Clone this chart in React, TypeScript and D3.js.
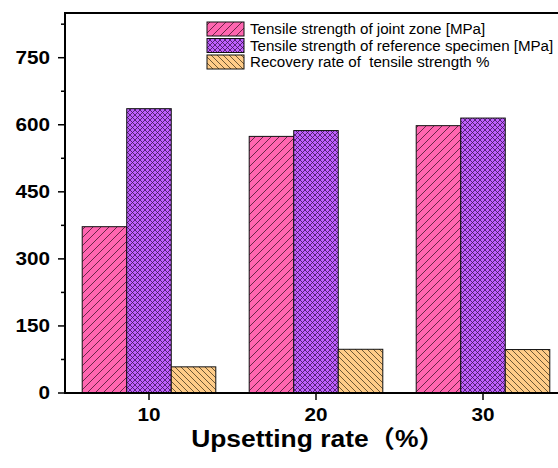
import React from "react";
import * as d3 from "d3";

// Upsetting rate groups (%)
const categories = [10, 20, 30];
// Tensile strength of joint zone [MPa]
const jointStrength = [372, 574, 598];
// Tensile strength of reference specimen [MPa]
const referenceStrength = [636, 587, 615];
// Recovery rate of tensile strength (%)
const recoveryRate = [58.5, 97.8, 97.2];

const yTicks = [0, 150, 300, 450, 600, 750];
const yMinorTicks = [75, 225, 375, 525, 675, 825];

const seriesNames = [
  "Tensile strength of joint zone [MPa]",
  "Tensile strength of reference specimen [MPa]",
  "Recovery rate of  tensile strength %",
];

const W = 558;
const H = 468;
const left = 65;
const top = 13;
const bottom = 393;
const font = "Arial, 'Liberation Sans', 'Noto Sans CJK SC', sans-serif";
// text in this figure is slightly wider than the plain face
const stretch = 1.15;
const legendStretch = 1.08;

export default function App() {
  const x = d3.scaleLinear().domain([5, 35]).range([65.5, 566.5]);
  const y = d3.scaleLinear().domain([0, 850]).range([bottom, top]);

  const groupUnits = 8;
  const barUnits = groupUnits / 3;
  const series = [jointStrength, referenceStrength, recoveryRate];
  const fills = ["url(#pinkHatch)", "url(#purpleCross)", "url(#orangeHatch)"];

  const legendX = 207;
  const legendY = [22, 38.5, 55];

  return (
    <svg
      width={W}
      height={H}
      style={{ position: "absolute", left: 0, top: 0, background: "#fff" }}
    >
      <defs>
        <pattern id="pinkHatch" width={8} height={8} patternUnits="userSpaceOnUse">
          <rect width={8} height={8} fill="#FF66B0" />
          <path
            d="M-2,2 L2,-2 M0,8 L8,0 M6,10 L10,6"
            stroke="#5a1f3c"
            strokeWidth={0.9}
          />
        </pattern>
        <pattern id="purpleCross" width={5} height={5} patternUnits="userSpaceOnUse">
          <rect width={5} height={5} fill="#C060FF" />
          <path
            d="M-1,1 L1,-1 M0,5 L5,0 M4,6 L6,4 M-1,4 L1,6 M0,0 L5,5 M4,-1 L6,1"
            stroke="#3d1656"
            strokeWidth={0.8}
          />
        </pattern>
        <pattern id="orangeHatch" width={6} height={6} patternUnits="userSpaceOnUse">
          <rect width={6} height={6} fill="#FFCC88" />
          <path
            d="M-1,5 L1,7 M0,0 L6,6 M5,-1 L7,1"
            stroke="#4a3a20"
            strokeWidth={0.8}
          />
        </pattern>
      </defs>

      {/* bars */}
      {categories.map((c, i) =>
        series.map((s, k) => {
          const x0 = x(c - groupUnits / 2 + k * barUnits);
          const x1 = x(c - groupUnits / 2 + (k + 1) * barUnits);
          return (
            <rect
              key={`${i}-${k}`}
              x={x0}
              y={y(s[i])}
              width={x1 - x0}
              height={y(0) - y(s[i])}
              fill={fills[k]}
              stroke="#111"
              strokeWidth={1}
            />
          );
        })
      )}

      {/* frame lines */}
      <line x1={left} y1={top} x2={W} y2={top} stroke="#000" strokeWidth={2} />
      <line x1={left} y1={top - 1} x2={left} y2={bottom + 1} stroke="#000" strokeWidth={2} />
      <line x1={left} y1={bottom} x2={W} y2={bottom} stroke="#000" strokeWidth={2} />

      {/* y axis ticks */}
      {yTicks.map((t) => (
        <g key={t}>
          <line x1={left - 7} x2={left} y1={y(t)} y2={y(t)} stroke="#000" strokeWidth={1.5} />
          <text
            transform={`translate(${left - 15},${y(t)}) scale(${stretch},1)`}
            dy="0.36em"
            textAnchor="end"
            fontFamily={font}
            fontWeight="bold"
            fontSize={18}
            fill="#000"
          >
            {t}
          </text>
        </g>
      ))}
      {yMinorTicks.map((t) => (
        <line key={t} x1={left - 4} x2={left} y1={y(t)} y2={y(t)} stroke="#000" strokeWidth={1.5} />
      ))}

      {/* x axis ticks */}
      {categories.map((c) => (
        <g key={c}>
          <line x1={x(c)} x2={x(c)} y1={bottom} y2={bottom + 7} stroke="#000" strokeWidth={1.5} />
          <text
            transform={`translate(${x(c)},421) scale(${stretch},1)`}
            textAnchor="middle"
            fontFamily={font}
            fontWeight="bold"
            fontSize={18}
            fill="#000"
          >
            {c}
          </text>
        </g>
      ))}

      <text
        transform={`translate(318,447) scale(1.1,1)`}
        textAnchor="middle"
        fontFamily={font}
        fontWeight="bold"
        fontSize={24}
        fill="#000"
      >
        Upsetting rate（%）
      </text>

      {/* legend */}
      {seriesNames.map((name, k) => (
        <g key={name}>
          <rect
            x={legendX}
            y={legendY[k]}
            width={37}
            height={14}
            fill={fills[k]}
            stroke="#111"
            strokeWidth={1}
          />
          <text
            transform={`translate(250,${legendY[k] + 7}) scale(${legendStretch},1)`}
            dy="0.36em"
            fontFamily={font}
            fontSize={14}
            fill="#000"
            style={{ whiteSpace: "pre" }}
          >
            {name}
          </text>
        </g>
      ))}
    </svg>
  );
}
